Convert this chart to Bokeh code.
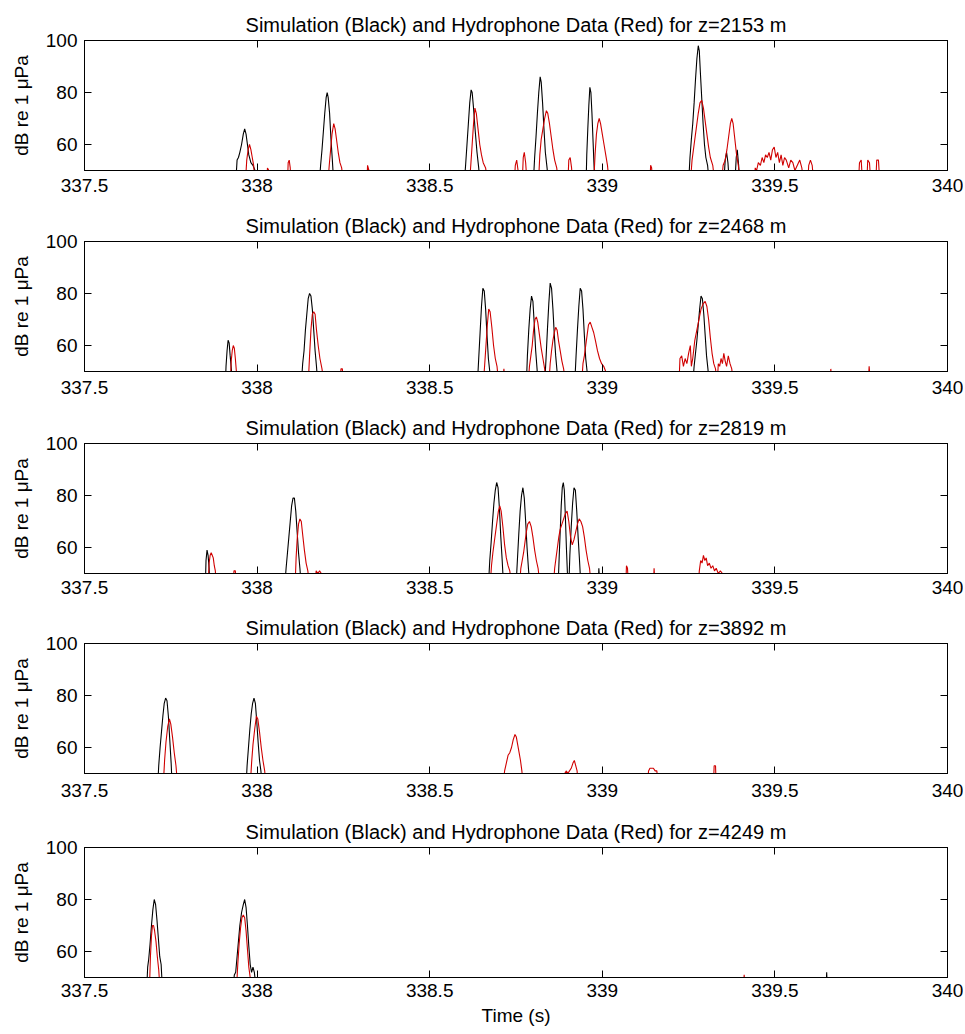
from bokeh.plotting import figure
from bokeh.layouts import column
from bokeh.models import Range1d, LinearAxis, FixedTicker
from bokeh.embed import file_html
from bokeh.resources import INLINE

# ---------------- data ----------------
depths = [2153, 2468, 2819, 3892, 4249]
x_ticks = [337.5, 338, 338.5, 339, 339.5, 340]
x_tick_labels = ["337.5", "338", "338.5", "339", "339.5", "340"]
y_ticks = [60, 80, 100]

# panel 1, z=2153 m
sim1_t = [337.500, 337.938, 337.942, 337.946, 337.950, 337.955, 337.960, 337.964, 337.968, 337.972, 337.976, 337.982, 337.988, 337.994, 338.000,
          338.180, 338.184, 338.188, 338.192, 338.196, 338.200, 338.203, 338.206, 338.210, 338.214, 338.218, 338.222,
          338.600, 338.604, 338.608, 338.612, 338.616, 338.620, 338.623, 338.627, 338.632, 338.637, 338.642, 338.646,
          338.800, 338.804, 338.808, 338.812, 338.816, 338.820, 338.823, 338.827, 338.831, 338.835, 338.840, 338.844,
          338.953, 338.955, 338.958, 338.961, 338.964, 338.967, 338.970, 338.973, 338.976, 338.979, 338.982,
          339.250, 339.254, 339.258, 339.262, 339.266, 339.270, 339.274, 339.278, 339.281, 339.284, 339.288, 339.292, 339.296, 339.300, 339.305, 339.310,
          339.352, 339.356, 339.360, 339.364, 339.368, 339.384, 339.388, 339.391, 339.395, 339.398, 340.000]
sim1_db = [45, 45, 54, 55, 57, 60, 64, 66, 64, 60, 56, 53, 52, 50, 45,
           45, 52, 58, 65, 72, 78, 80, 78, 72, 62, 54, 45,
           45, 52, 60, 68, 76, 81, 80, 74, 65, 57, 51, 45,
           45, 55, 63, 72, 80, 86, 84, 76, 66, 57, 51, 45,
           45, 56, 66, 75, 82, 80, 72, 62, 52, 45, 45,
           45, 55, 62, 68, 76, 85, 93, 98, 96, 88, 78, 68, 60, 55, 52, 45,
           45, 54, 57, 53, 45, 45, 55, 58, 52, 45, 45]
hyd1_t = [337.500, 337.966, 337.970, 337.974, 337.978, 337.982, 337.986, 337.990, 337.994,
          338.028, 338.030, 338.034, 338.036, 338.088, 338.090, 338.093, 338.096, 338.098,
          338.205, 338.209, 338.213, 338.217, 338.222, 338.226, 338.230, 338.235, 338.240, 338.245, 338.250,
          338.318, 338.320, 338.324, 338.326,
          338.615, 338.619, 338.623, 338.627, 338.631, 338.635, 338.640, 338.645, 338.650, 338.655, 338.662, 338.668,
          338.745, 338.748, 338.752, 338.756, 338.760, 338.768, 338.771, 338.774, 338.778, 338.782,
          338.815, 338.819, 338.823, 338.828, 338.833, 338.838, 338.842, 338.847, 338.852, 338.857, 338.862, 338.868, 338.873,
          338.900, 338.903, 338.907, 338.911, 338.914,
          338.975, 338.979, 338.983, 338.987, 338.991, 338.995, 339.000, 339.005, 339.010, 339.015, 339.020,
          339.138, 339.140, 339.143, 339.145,
          339.255, 339.260, 339.266, 339.272, 339.278, 339.283, 339.288, 339.293, 339.298, 339.303, 339.308, 339.313, 339.320, 339.326,
          339.345, 339.350, 339.356, 339.361, 339.366, 339.371, 339.375, 339.379, 339.384, 339.389, 339.394, 339.400,
          339.440, 339.443, 339.447, 339.452, 339.458, 339.463, 339.468, 339.473, 339.478, 339.483, 339.488, 339.493, 339.498,
          339.503, 339.508, 339.513, 339.518, 339.523, 339.528, 339.533, 339.540, 339.546, 339.552, 339.558, 339.565, 339.572, 339.578, 339.584,
          339.595, 339.598, 339.603, 339.608, 339.613,
          339.742, 339.745, 339.750, 339.754, 339.766, 339.769, 339.774, 339.778, 339.792, 339.795, 339.800, 339.804, 340.000]
hyd1_db = [45, 45, 54, 58, 60, 58, 55, 52, 45,
           45, 51, 50, 45, 45, 53, 54, 51, 45,
           45, 52, 58, 64, 68, 66, 62, 57, 53, 51, 45,
           45, 52, 50, 45,
           45, 52, 60, 68, 74, 72, 66, 60, 56, 53, 51, 45,
           45, 52, 54, 50, 45, 45, 55, 57, 53, 45,
           45, 56, 62, 66, 70, 73, 72, 68, 63, 58, 54, 51, 45,
           45, 54, 55, 51, 45,
           45, 56, 64, 68, 70, 68, 64, 60, 56, 52, 45,
           45, 52, 51, 45,
           45, 54, 60, 66, 72, 76, 77, 74, 69, 64, 59, 55, 52, 45,
           45, 52, 54, 58, 63, 68, 70, 68, 62, 56, 52, 45,
           45, 51, 50, 53, 52, 55, 53, 56, 55, 57, 54, 58, 59,
           55, 57, 53, 56, 52, 55, 54, 51, 54, 53, 50, 52, 54, 51, 45,
           45, 52, 54, 52, 45,
           45, 53, 54, 45, 45, 54, 53, 45, 45, 54, 54, 45, 45]

# panel 2, z=2468 m
sim2_t = [337.500, 337.908, 337.910, 337.913, 337.916, 337.919, 337.922, 337.926, 337.928,
          338.128, 338.132, 338.136, 338.140, 338.144, 338.148, 338.152, 338.156, 338.160, 338.164, 338.168, 338.172, 338.176,
          338.638, 338.642, 338.646, 338.650, 338.654, 338.658, 338.662, 338.666, 338.670, 338.674, 338.678,
          338.780, 338.783, 338.787, 338.791, 338.795, 338.799, 338.803, 338.807, 338.811, 338.814,
          338.833, 338.837, 338.841, 338.845, 338.849, 338.853, 338.857, 338.861, 338.865, 338.869, 338.872,
          338.920, 338.924, 338.928, 338.932, 338.936, 338.940, 338.944, 338.948, 338.952, 338.956, 338.960,
          339.262, 339.266, 339.270, 339.274, 339.278, 339.282, 339.286, 339.290, 339.294, 339.298, 339.302, 339.306, 339.310, 340.000]
sim2_db = [45, 45, 52, 58, 62, 61, 56, 50, 45,
           45, 53, 58, 66, 72, 78, 80, 79, 74, 66, 58, 52, 45,
           45, 55, 65, 75, 82, 81, 74, 64, 55, 50, 45,
           45, 56, 66, 74, 79, 77, 68, 58, 51, 45,
           45, 55, 66, 76, 84, 82, 74, 64, 56, 50, 45,
           45, 56, 66, 75, 82, 81, 74, 64, 55, 50, 45,
           45, 52, 57, 62, 68, 74, 79, 78, 72, 64, 56, 51, 45, 45]
hyd2_t = [337.500, 337.922, 337.925, 337.928, 337.931, 337.934, 337.937, 337.940, 337.942,
          338.148, 338.152, 338.156, 338.160, 338.164, 338.168, 338.172, 338.177, 338.182, 338.188, 338.194,
          338.240, 338.243, 338.247, 338.250,
          338.655, 338.659, 338.663, 338.667, 338.671, 338.675, 338.680, 338.685, 338.690, 338.695, 338.700,
          338.712, 338.715, 338.718,
          338.785, 338.789, 338.793, 338.797, 338.801, 338.805, 338.809, 338.813, 338.818, 338.823, 338.828, 338.833, 338.838,
          338.845, 338.849, 338.853, 338.857, 338.861, 338.865, 338.869, 338.873, 338.878, 338.883, 338.888, 338.894,
          338.940, 338.944, 338.948, 338.952, 338.956, 338.960, 338.965, 338.970, 338.975, 338.980, 338.986, 338.992, 338.998, 339.004, 339.010, 339.016,
          339.222, 339.225, 339.230, 339.235, 339.240, 339.245, 339.250, 339.255, 339.258,
          339.262, 339.268, 339.274, 339.280, 339.286, 339.292, 339.298, 339.303, 339.308, 339.313, 339.318, 339.323, 339.328,
          339.333, 339.336, 339.340, 339.344, 339.348, 339.352, 339.356, 339.360, 339.365, 339.370, 339.375, 339.380,
          339.660, 339.662, 339.665, 339.770, 339.773, 339.777, 340.000]
hyd2_db = [45, 45, 54, 58, 60, 59, 55, 50, 45,
           45, 56, 66, 72, 73, 72, 66, 60, 55, 51, 45,
           45, 51, 51, 45,
           45, 52, 60, 68, 74, 73, 67, 60, 55, 52, 45,
           45, 51, 45,
           45, 52, 56, 60, 66, 70, 71, 69, 64, 59, 55, 51, 45,
           45, 53, 58, 62, 65, 67, 66, 62, 58, 54, 51, 45,
           45, 53, 56, 60, 64, 68, 69, 67, 65, 62, 58, 55, 53, 52, 50, 45,
           45, 55, 56, 52, 55, 53, 57, 60, 52,
           55, 62, 66, 70, 74, 76, 77, 75, 70, 63, 57, 53, 51,
           45, 53, 52, 55, 53, 57, 54, 52, 56, 53, 51, 45,
           45, 51, 45, 45, 52, 45, 45]

# panel 3, z=2819 m
sim3_t = [337.500, 337.850, 337.852, 337.855, 337.858, 337.861, 337.863,
          338.080, 338.084, 338.088, 338.092, 338.096, 338.100, 338.104, 338.108, 338.112, 338.116, 338.120, 338.124, 338.128,
          338.670, 338.674, 338.678, 338.682, 338.686, 338.690, 338.694, 338.698, 338.702, 338.706, 338.710, 338.714,
          338.750, 338.754, 338.758, 338.762, 338.766, 338.770, 338.774, 338.778, 338.782, 338.786, 338.790,
          338.872, 338.875, 338.878, 338.881, 338.884, 338.887, 338.890, 338.893, 338.896, 338.899, 338.902,
          338.903, 338.906, 338.910, 338.914, 338.918, 338.922, 338.926, 338.930, 338.934, 338.938,
          338.988, 338.990, 338.993, 340.000]
sim3_db = [45, 45, 55, 59, 57, 52, 45,
           45, 52, 58, 64, 70, 76, 79, 79, 74, 66, 58, 52, 45,
           45, 55, 62, 70, 77, 82, 85, 83, 75, 64, 55, 45,
           45, 55, 65, 74, 80, 83, 79, 70, 60, 52, 45,
           45, 56, 66, 76, 83, 85, 82, 72, 60, 50, 45,
           45, 57, 68, 77, 83, 82, 74, 64, 55, 45,
           45, 52, 45, 45]
hyd3_t = [337.500, 337.858, 337.861, 337.864, 337.867, 337.870, 337.873, 337.876, 337.879, 337.882,
          337.930, 337.933, 337.937, 337.940,
          338.110, 338.113, 338.116, 338.120, 338.124, 338.128, 338.132, 338.137, 338.142, 338.147, 338.152,
          338.168, 338.171, 338.176, 338.181, 338.186, 338.190,
          338.675, 338.679, 338.683, 338.687, 338.691, 338.695, 338.699, 338.703, 338.707, 338.712, 338.717, 338.722, 338.727, 338.732, 338.738,
          338.760, 338.764, 338.768, 338.772, 338.776, 338.780, 338.784, 338.789, 338.794, 338.799, 338.804, 338.809, 338.814, 338.820,
          338.858, 338.862, 338.866, 338.870, 338.874, 338.878, 338.883, 338.888, 338.893, 338.898, 338.903, 338.908, 338.913,
          338.918, 338.923, 338.928, 338.933, 338.938, 338.943, 338.948, 338.953, 338.958, 338.963, 338.968,
          339.068, 339.070, 339.073, 339.076, 339.148, 339.150, 339.153,
          339.278, 339.281, 339.285, 339.289, 339.293, 339.297, 339.301, 339.305, 339.310, 339.315, 339.320, 339.325, 339.330,
          339.336, 339.342, 339.348, 339.352, 340.000]
hyd3_db = [45, 45, 54, 57, 58, 57, 56, 53, 51, 45,
           45, 51, 51, 45,
           45, 56, 63, 69, 71, 70, 65, 59, 54, 51, 45,
           45, 51, 50, 51, 50, 45,
           45, 53, 58, 62, 66, 70, 74, 76, 74, 68, 61, 56, 53, 51, 45,
           45, 52, 55, 58, 62, 66, 69, 70, 68, 64, 59, 55, 52, 45,
           45, 52, 56, 60, 64, 67, 69, 71, 73, 74, 70, 64, 61,
           63, 66, 69, 71, 70, 68, 64, 59, 55, 52, 45,
           45, 53, 52, 45, 45, 52, 45,
           45, 51, 55, 54, 57, 55, 56, 53, 54, 52, 53, 51, 52,
           50, 51, 50, 45, 45]

# panel 4, z=3892 m
sim4_t = [337.500, 337.712, 337.715, 337.719, 337.723, 337.727, 337.731, 337.735, 337.739, 337.743, 337.747, 337.751, 337.754,
          337.968, 337.971, 337.975, 337.979, 337.983, 337.987, 337.991, 337.995, 337.999, 338.003, 338.007, 338.011, 338.015, 340.000]
sim4_db = [45, 45, 53, 60, 66, 72, 77, 79, 78, 72, 63, 54, 45,
           45, 53, 60, 67, 73, 77, 79, 77, 70, 62, 55, 51, 45, 45]
hyd4_t = [337.500, 337.728, 337.732, 337.736, 337.741, 337.746, 337.750, 337.755, 337.760, 337.765, 337.770,
          337.980, 337.984, 337.988, 337.993, 337.998, 338.002, 338.007, 338.012, 338.017, 338.022, 338.026,
          338.712, 338.717, 338.722, 338.727, 338.732, 338.737, 338.742, 338.747, 338.751, 338.755, 338.759, 338.763, 338.767, 338.771,
          338.888, 338.891, 338.896, 338.900, 338.905, 338.910, 338.915, 338.919, 338.923, 338.927, 338.930,
          339.130, 339.134, 339.138, 339.143, 339.148, 339.153, 339.158, 339.162,
          339.322, 339.324, 339.328, 339.330, 340.000]
hyd4_db = [45, 45, 55, 62, 68, 71, 69, 64, 58, 53, 45,
           45, 54, 61, 67, 72, 71, 66, 60, 55, 51, 45,
           45, 51, 54, 57, 58, 60, 63, 65, 64, 61, 58, 55, 51, 45,
           45, 50, 51, 50, 51, 52, 54, 55, 53, 51, 45,
           45, 51, 52, 52, 52, 51, 51, 45,
           45, 53, 53, 45, 45]

# panel 5, z=4249 m
sim5_t = [337.500, 337.680, 337.683, 337.686, 337.690, 337.694, 337.698, 337.702, 337.706, 337.710, 337.714, 337.718, 337.722, 337.726,
          337.930, 337.934, 337.938, 337.942, 337.946, 337.950, 337.955, 337.960, 337.964, 337.968, 337.972, 337.976, 337.980, 337.984,
          337.988, 337.992, 337.998, 339.648, 339.650, 339.652, 340.000]
sim5_db = [45, 45, 54, 57, 63, 70, 76, 80, 78, 72, 65, 58, 55, 45,
           45, 51, 52, 58, 64, 70, 75, 78, 80, 77, 70, 62, 55, 52,
           54, 52, 45, 45, 52, 45, 45]
hyd5_t = [337.500, 337.688, 337.691, 337.694, 337.697, 337.700, 337.703, 337.707, 337.711, 337.715, 337.719,
          337.940, 337.944, 337.948, 337.952, 337.956, 337.960, 337.964, 337.968, 337.972, 337.976, 337.980, 337.984,
          339.408, 339.411, 339.414, 340.000]
hyd5_db = [45, 45, 58, 66, 70, 70, 68, 64, 58, 53, 45,
           45, 55, 63, 69, 73, 74, 73, 68, 61, 54, 50, 45,
           45, 51, 45, 45]

sim_t = [sim1_t, sim2_t, sim3_t, sim4_t, sim5_t]
sim_db = [sim1_db, sim2_db, sim3_db, sim4_db, sim5_db]
hyd_t = [hyd1_t, hyd2_t, hyd3_t, hyd4_t, hyd5_t]
hyd_db = [hyd1_db, hyd2_db, hyd3_db, hyd4_db, hyd5_db]

# ---------------- styling ----------------
FONT = "Liberation Sans"
FS = "19px"
TITLE_FS = "20px"
heights = [200, 202, 200, 204, 226]
tops = [40, 41, 41, 41, 41]
tick_standoff = [8, 9, 7, 10, 6]
FRAME_H = 130

plots = []
for i in range(5):
    h = heights[i]
    last = (i == 4)
    p = figure(width=963, height=h,
               x_range=Range1d(337.5, 340), y_range=Range1d(50, 100),
               output_backend="svg", toolbar_location=None,
               min_border_left=84, min_border_right=16,
               min_border_top=tops[i], min_border_bottom=h - tops[i] - FRAME_H,
               x_axis_label="Time (s)" if last else None,
               y_axis_label="dB re 1 \u03bcPa")
    p.title.text = f"Simulation (Black) and Hydrophone Data (Red) for z={depths[i]} m"
    p.title.align = "center"
    p.title.text_font = FONT
    p.title.text_font_size = TITLE_FS
    p.title.text_font_style = "normal"
    p.title.text_color = "black"
    p.xgrid.visible = False
    p.ygrid.visible = False
    p.outline_line_color = "black"
    p.outline_line_width = 1
    p.background_fill_color = "white"
    p.border_fill_color = "white"

    # top and right tick-only axes
    p.add_layout(LinearAxis(), "above")
    p.add_layout(LinearAxis(), "right")
    bottom_ax = p.below[0]
    top_ax = p.above[-1]
    left_ax = p.left[0]
    right_ax = p.right[-1]

    for ax in (bottom_ax, top_ax):
        ax.ticker = FixedTicker(ticks=x_ticks)
    for ax in (left_ax, right_ax):
        ax.ticker = FixedTicker(ticks=y_ticks)
    for ax in (bottom_ax, top_ax, left_ax, right_ax):
        ax.major_tick_in = 7
        ax.major_tick_out = 0
        ax.minor_tick_line_color = None
        ax.axis_line_color = "black"
        ax.major_tick_line_color = "black"
        ax.major_label_text_font = FONT
        ax.major_label_text_font_size = FS
        ax.major_label_text_color = "black"
        ax.axis_label_text_font = FONT
        ax.axis_label_text_font_size = FS
        ax.axis_label_text_font_style = "normal"
        ax.axis_label_text_color = "black"

    bottom_ax.major_label_overrides = {t: l for t, l in zip(x_ticks, x_tick_labels)}
    bottom_ax.major_label_standoff = tick_standoff[i]
    bottom_ax.axis_label_standoff = 5
    left_ax.major_label_standoff = 7
    left_ax.axis_label_standoff = 11
    top_ax.major_label_overrides = {t: "" for t in x_ticks}
    right_ax.major_label_overrides = {t: "" for t in y_ticks}
    for ax in (top_ax, right_ax):
        ax.major_label_standoff = 0
        ax.axis_label = None

    p.line(sim_t[i], sim_db[i], line_color="black", line_width=1.1)
    p.line(hyd_t[i], hyd_db[i], line_color="#d00000", line_width=1.1)
    plots.append(p)

layout = column(*plots)
open("out.html", "w").write(file_html(layout, INLINE))
